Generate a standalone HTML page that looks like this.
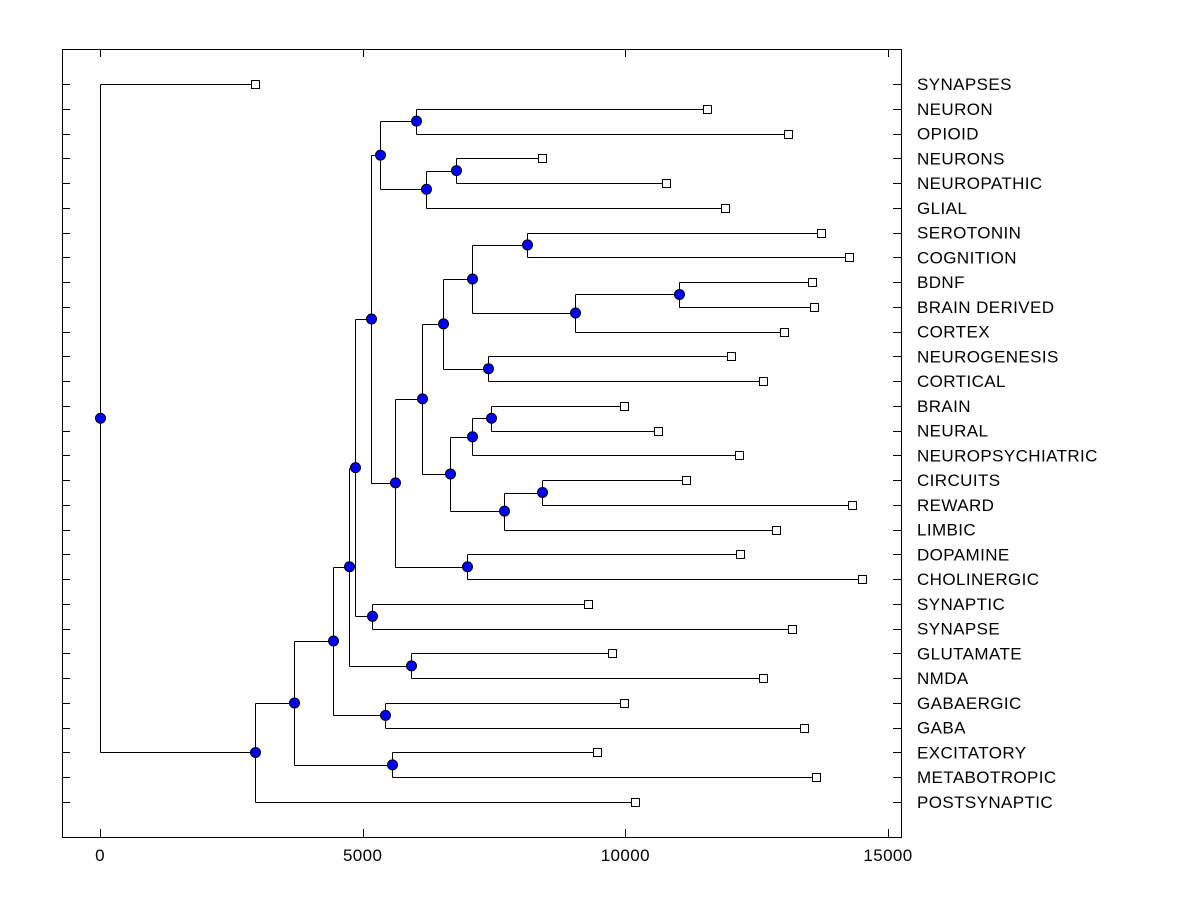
<!DOCTYPE html>
<html><head><meta charset="utf-8"><style>
html,body{margin:0;padding:0;background:#fff;}
svg{display:block;font-family:"Liberation Sans",Arial,sans-serif;}
</style></head><body>
<svg id="chart" width="1200" height="900" viewBox="0 0 1200 900" xmlns="http://www.w3.org/2000/svg">
<rect x="62.5" y="49.5" width="839" height="788" fill="none" stroke="#000" stroke-width="1"/>
<g id="g"></g>
</svg>
<script>
const labels=["SYNAPSES","NEURON","OPIOID","NEURONS","NEUROPATHIC","GLIAL","SEROTONIN","COGNITION","BDNF","BRAIN DERIVED","CORTEX","NEUROGENESIS","CORTICAL","BRAIN","NEURAL","NEUROPSYCHIATRIC","CIRCUITS","REWARD","LIMBIC","DOPAMINE","CHOLINERGIC","SYNAPTIC","SYNAPSE","GLUTAMATE","NMDA","GABAERGIC","GABA","EXCITATORY","METABOTROPIC","POSTSYNAPTIC"];
const leafValues=[2950,11555,13097,8414,10775,11898,13726,14259,13554,13592,13021,12012,12622,9975,10622,12164,11155,14316,12869,12183,14506,9290,13173,9747,12622,9975,13402,9461,13630,10185];
const mergeLeft=[1,3,31,30,6,8,35,34,11,37,13,40,16,42,41,39,19,45,33,21,48,23,50,25,52,27,54,56,0];
const mergeRight=[2,4,5,32,7,9,10,36,12,38,14,15,17,18,43,44,20,46,47,22,49,24,51,26,53,28,55,29,57];
const mergeHeights=[6016,6777,6206,5330,8129,11022,9042,7082,7386,6530,7443,7082,8414,7691,6663,6130,6987,5616,5159,5178,4854,5920,4740,5425,4436,5559,3693,2951,0];
const xTicks=[0,5000,10000,15000];

const NS="http://www.w3.org/2000/svg";
const g=document.getElementById('g');
const xs=v=>100+v*(788/15000);
const ys=i=>84+i*(802-84)/29;
function mk(t,a,p){const e=document.createElementNS(NS,t);for(const k in a)e.setAttribute(k,a[k]);(p||g).appendChild(e);return e;}

xTicks.forEach(v=>{
  const x=Math.round(xs(v))+0.5;
  let t=mk('line',{x1:x,x2:x,y1:829,y2:837,stroke:'#000'});
  
  
  t=mk('line',{x1:x,x2:x,y1:49,y2:57,stroke:'#000'});
  
  
  const l=mk('text',{x:xs(v),y:861,'text-anchor':'middle','font-size':17,'letter-spacing':0.4});
  l.textContent=v;
  
  
});
labels.forEach((s,i)=>{
  const y=Math.round(ys(i))+0.5;
  let t=mk('line',{x1:62,x2:70,y1:y,y2:y,stroke:'#000'});
  
  
  t=mk('line',{x1:893,x2:901,y1:y,y2:y,stroke:'#000'});
  
  
  const l=mk('text',{x:917,y:ys(i)+6,'font-size':17,'letter-spacing':0.4});
  l.textContent=s;
  
  
});

const nodeY=labels.map((_,i)=>ys(i));
const nodeH=leafValues.slice();
const dots=[];
mergeLeft.forEach((a,k)=>{
  const b=mergeRight[k],h=mergeHeights[k];
  const ya=nodeY[a],yb=nodeY[b],x=Math.round(xs(h))+0.5;
  let v=mk('line',{x1:x,x2:x,y1:Math.round(ya)+0.5,y2:Math.round(yb)+0.5,stroke:'#000'});
  
  
  [a,b].forEach(c=>{
    const y=Math.round(nodeY[c])+0.5;
    const hl=mk('line',{x1:x,x2:Math.round(xs(nodeH[c]))+0.5,y1:y,y2:y,stroke:'#000'});
    
    
  });
  const id=labels.length+k;
  nodeY[id]=(ya+yb)/2; nodeH[id]=h;
  dots.push([x,nodeY[id]]);
});
leafValues.forEach((v,i)=>{
  const r=mk('rect',{x:Math.round(xs(v))-3.5,y:Math.round(ys(i))-3.5,width:8,height:8,fill:'#fff',stroke:'#000'});
  
  
});
dots.forEach(([x,y])=>{
  const c=mk('circle',{cx:x,cy:y,r:5,fill:'#0000ff',stroke:'#000'});
  
  
});
</script>
</body></html>
